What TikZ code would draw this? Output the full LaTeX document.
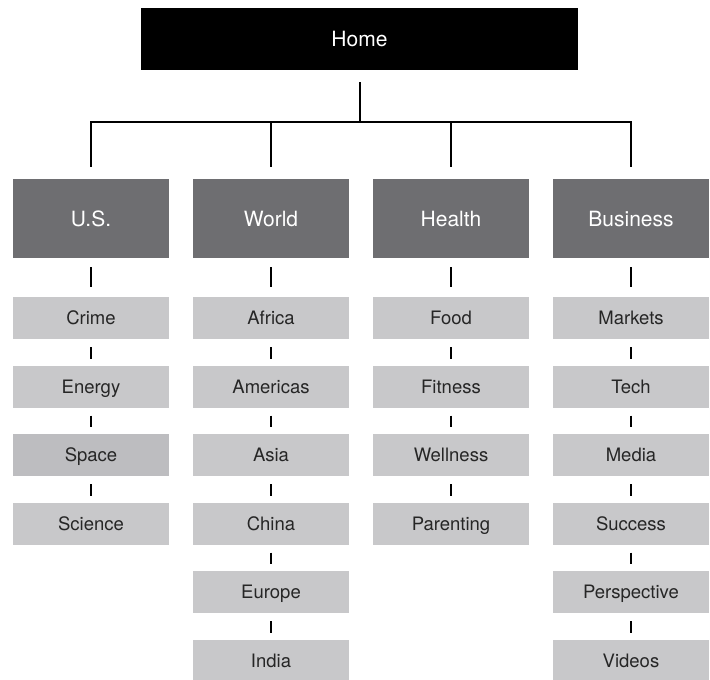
\documentclass[tikz,border=0pt]{standalone}
\usepackage{fontspec}
\setmainfont{TeX Gyre Heros}
\usetikzlibrary{positioning}
\definecolor{catgray}{HTML}{6E6E71}
\definecolor{itemgray}{HTML}{C8C8CA}
\definecolor{itemdark}{HTML}{BDBDC0}

\begin{document}
\begin{tikzpicture}[x=1pt, y=1pt,
      home/.style={fill=black, text=white, inner sep=0pt, outer sep=0pt, text height=15.1pt, text depth=0pt, minimum width=437pt, minimum height=62pt, font=\fontsize{21}{24}\selectfont},
      cat/.style={fill=catgray, text=white, inner sep=0pt, outer sep=0pt, text height=15.1pt, text depth=0pt, minimum width=156pt, minimum height=79pt, font=\fontsize{21}{24}\selectfont},
      item/.style={fill=itemgray, text=black!85, inner sep=0pt, outer sep=0pt, text height=13.3pt, text depth=0pt, minimum width=156pt, minimum height=42pt, font=\fontsize{18.5}{22}\selectfont},
      link/.style={line width=2pt},
      firsttick/.style={line width=2pt, shorten <=9pt, shorten >=10pt},
      tick/.style={line width=2pt, shorten <=8pt, shorten >=7pt}
    ]
    \useasboundingbox (0,0) rectangle (710,-680);
    \node[home] (home) at (359.5,-39) {Home};
    \node[cat] (us) at (91,-218.5) {U.S.};
    \node[cat] (world) at (271,-218.5) {World};
    \node[cat] (health) at (451,-218.5) {Health};
    \node[cat] (business) at (631,-218.5) {Business};
    \coordinate (bus) at (359.5,-122);
    \draw[link] ([yshift=-12pt]home.south) -- (bus);
    \draw[link] (bus) -| ([yshift=12pt]us.north);
    \draw[link] (bus) -| ([yshift=12pt]world.north);
    \draw[link] (bus) -| ([yshift=12pt]health.north);
    \draw[link] (bus) -| ([yshift=12pt]business.north);

    \node[item, below=39pt of us] (crime) {Crime};
    \node[item, below=26.5pt of crime] (energy) {Energy};
    \node[item, fill=itemdark, below=26.5pt of energy] (space) {Space};
    \node[item, below=26.5pt of space] (science) {Science};
    \draw[firsttick] (us) -- (crime);
    \draw[tick] (crime) -- (energy);
    \draw[tick] (energy) -- (space);
    \draw[tick] (space) -- (science);

    \node[item, below=39pt of world] (africa) {Africa};
    \node[item, below=26.5pt of africa] (americas) {Americas};
    \node[item, below=26.5pt of americas] (asia) {Asia};
    \node[item, below=26.5pt of asia] (china) {China};
    \node[item, below=26.5pt of china] (europe) {Europe};
    \node[item, below=26.5pt of europe] (india) {India};
    \draw[firsttick] (world) -- (africa);
    \draw[tick] (africa) -- (americas);
    \draw[tick] (americas) -- (asia);
    \draw[tick] (asia) -- (china);
    \draw[tick] (china) -- (europe);
    \draw[tick] (europe) -- (india);

    \node[item, below=39pt of health] (food) {Food};
    \node[item, below=26.5pt of food] (fitness) {Fitness};
    \node[item, below=26.5pt of fitness] (wellness) {Wellness};
    \node[item, below=26.5pt of wellness] (parenting) {Parenting};
    \draw[firsttick] (health) -- (food);
    \draw[tick] (food) -- (fitness);
    \draw[tick] (fitness) -- (wellness);
    \draw[tick] (wellness) -- (parenting);

    \node[item, below=39pt of business] (markets) {Markets};
    \node[item, below=26.5pt of markets] (tech) {Tech};
    \node[item, below=26.5pt of tech] (media) {Media};
    \node[item, below=26.5pt of media] (success) {Success};
    \node[item, below=26.5pt of success] (perspective) {Perspective};
    \node[item, below=26.5pt of perspective] (videos) {Videos};
    \draw[firsttick] (business) -- (markets);
    \draw[tick] (markets) -- (tech);
    \draw[tick] (tech) -- (media);
    \draw[tick] (media) -- (success);
    \draw[tick] (success) -- (perspective);
    \draw[tick] (perspective) -- (videos);
  \end{tikzpicture}
\end{document}
